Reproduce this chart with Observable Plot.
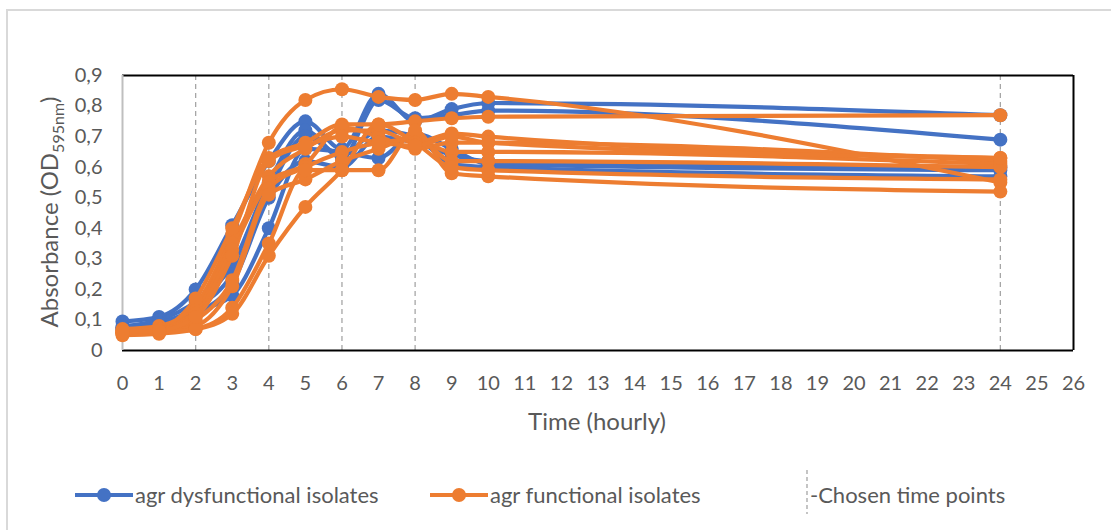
<!DOCTYPE html>
<html>
<head>
<meta charset="utf-8">
<script src="https://cdn.jsdelivr.net/npm/d3@7"></script>
<script src="https://cdn.jsdelivr.net/npm/@observablehq/plot@0.6"></script>
<style>
  html, body { margin: 0; padding: 0; background: #fff; }
  body { width: 1111px; height: 530px; position: relative; overflow: hidden; font-family: Lato, "Open Sans", sans-serif; color: #595959; }
  #frame { position: absolute; left: 6px; top: 9px; width: 1200px; height: 600px; border-left: 2px solid #d9d9d9; border-top: 2px solid #d9d9d9; }
  #chart { position: absolute; left: 0; top: 0; }
  .leg { position: absolute; top: 482px; font-size: 22px; line-height: 26px; white-space: nowrap; }
  .sw { position: absolute; top: 485px; }
</style>
</head>
<body>
<div id="frame"></div>
<div id="chart"></div>
<svg class="sw" style="left:75px" width="58" height="20"><line x1="0" y1="10" x2="58" y2="10" stroke="#4472C4" stroke-width="4"/><circle cx="29" cy="10" r="7" fill="#4472C4"/></svg>
<span class="leg" style="left:135px">agr dysfunctional isolates</span>
<svg class="sw" style="left:430px" width="58" height="20"><line x1="0" y1="10" x2="58" y2="10" stroke="#ED7D31" stroke-width="4"/><circle cx="29" cy="10" r="7" fill="#ED7D31"/></svg>
<span class="leg" style="left:490px">agr functional isolates</span>
<svg class="sw" style="left:802px; top:470px" width="10" height="44"><line x1="5" y1="0" x2="5" y2="44" stroke="#a6a6a6" stroke-width="1.3" stroke-dasharray="4,3"/></svg>
<span class="leg" style="left:810px">-Chosen time points</span>
<script>
const hours = [0, 1, 2, 3, 4, 5, 6, 7, 8, 9, 10, 24];
const chosenHours = [2, 4, 6, 8, 24];
const xTicks = [0,1,2,3,4,5,6,7,8,9,10,11,12,13,14,15,16,17,18,19,20,21,22,23,24,25,26];
const yTicks = [0, 0.1, 0.2, 0.3, 0.4, 0.5, 0.6, 0.7, 0.8, 0.9];

// agr dysfunctional isolates (OD595nm per isolate)
const dysfunctional = [
  [0.095, 0.11, 0.20, 0.41, 0.62, 0.75, 0.66, 0.84, 0.75, 0.79, 0.81, 0.77],
  [0.080, 0.10, 0.16, 0.28, 0.55, 0.72, 0.63, 0.82, 0.76, 0.77, 0.785, 0.69],
  [0.070, 0.09, 0.13, 0.18, 0.40, 0.66, 0.65, 0.63, 0.71, 0.66, 0.61, 0.59],
  [0.075, 0.09, 0.14, 0.25, 0.52, 0.70, 0.64, 0.72, 0.70, 0.61, 0.60, 0.57],
  [0.070, 0.08, 0.12, 0.22, 0.50, 0.62, 0.60, 0.70, 0.68, 0.64, 0.62, 0.60]
];

// agr functional isolates (OD595nm per isolate)
const functional = [
  [0.070, 0.080, 0.15, 0.38, 0.68, 0.82, 0.855, 0.83, 0.82, 0.84, 0.83, 0.55],
  [0.060, 0.070, 0.17, 0.40, 0.63, 0.68, 0.74, 0.74, 0.75, 0.76, 0.765, 0.77],
  [0.060, 0.070, 0.13, 0.35, 0.57, 0.66, 0.72, 0.72, 0.68, 0.71, 0.70, 0.63],
  [0.065, 0.070, 0.12, 0.33, 0.55, 0.61, 0.73, 0.70, 0.66, 0.68, 0.68, 0.62],
  [0.060, 0.060, 0.10, 0.23, 0.53, 0.60, 0.65, 0.68, 0.69, 0.65, 0.65, 0.61],
  [0.055, 0.060, 0.08, 0.21, 0.51, 0.56, 0.62, 0.66, 0.70, 0.62, 0.62, 0.60],
  [0.050, 0.055, 0.07, 0.14, 0.35, 0.59, 0.59, 0.59, 0.72, 0.58, 0.57, 0.52],
  [0.055, 0.060, 0.07, 0.12, 0.31, 0.47, 0.59, 0.74, 0.68, 0.60, 0.59, 0.56],
  [0.060, 0.065, 0.11, 0.31, 0.62, 0.67, 0.70, 0.68, 0.67, 0.70, 0.68, 0.63]
];

const toRows = (series, group) => series.flatMap((vals, i) =>
  vals.map((od, j) => ({ group, isolate: group + i, hour: hours[j], od })));
const blueRows = toRows(dysfunctional, "dys");
const orangeRows = toRows(functional, "fun");

const BLUE = "#4472C4", ORANGE = "#ED7D31";
const fmt = d => d === 0 ? "0" : d.toFixed(1).replace(".", ",");

const chart = Plot.plot({
  width: 1111,
  height: 455,
  marginLeft: 122,
  marginRight: 38,
  marginTop: 75,
  marginBottom: 105,
  style: { fontFamily: "Lato, 'Open Sans', sans-serif", fontSize: "20px", color: "#595959", background: "transparent" },
  x: { domain: [0, 26] },
  y: { domain: [0, 0.9] },
  marks: [
    Plot.axisX({ ticks: xTicks, tickSize: 0, tickPadding: 25, label: null, tickFormat: d => String(d) }),
    Plot.axisY({ ticks: yTicks, tickSize: 0, tickPadding: 20, label: null, tickFormat: fmt }),
    Plot.ruleX(chosenHours, { stroke: "#a6a6a6", strokeWidth: 1.3, strokeDasharray: "5,4" }),
    Plot.ruleY([0, 0.9], { stroke: "#000", strokeWidth: 2 }),
    Plot.ruleX([26], { stroke: "#000", strokeWidth: 2 }),
    Plot.ruleX([0], { stroke: "#bfbfbf", strokeWidth: 2 }),
    Plot.line(blueRows, { x: "hour", y: "od", z: "isolate", stroke: BLUE, strokeWidth: 4.2, curve: "monotone-x" }),
    Plot.dot(blueRows, { x: "hour", y: "od", r: 7, fill: BLUE, stroke: "none" }),
    Plot.line(orangeRows, { x: "hour", y: "od", z: "isolate", stroke: ORANGE, strokeWidth: 4.2, curve: "monotone-x" }),
    Plot.dot(orangeRows, { x: "hour", y: "od", r: 7, fill: ORANGE, stroke: "none" })
  ]
});
document.getElementById("chart").appendChild(chart);

// axis titles
const svg = d3.select(chart);
svg.append("text")
  .attr("x", 597).attr("y", 422).attr("dy", "0.35em")
  .attr("text-anchor", "middle").attr("fill", "#595959")
  .style("font-size", "24px")
  .text("Time (hourly)");
const yl = svg.append("text")
  .attr("transform", "translate(50,212) rotate(-90)")
  .attr("text-anchor", "middle").attr("dy", "0.35em").attr("fill", "#595959")
  .style("font-size", "24px");
yl.append("tspan").text("Absorbance (OD");
yl.append("tspan").attr("dy", "6").style("font-size", "16px").text("595nm");
yl.append("tspan").attr("dy", "-6").text(")");
</script>
</body>
</html>
